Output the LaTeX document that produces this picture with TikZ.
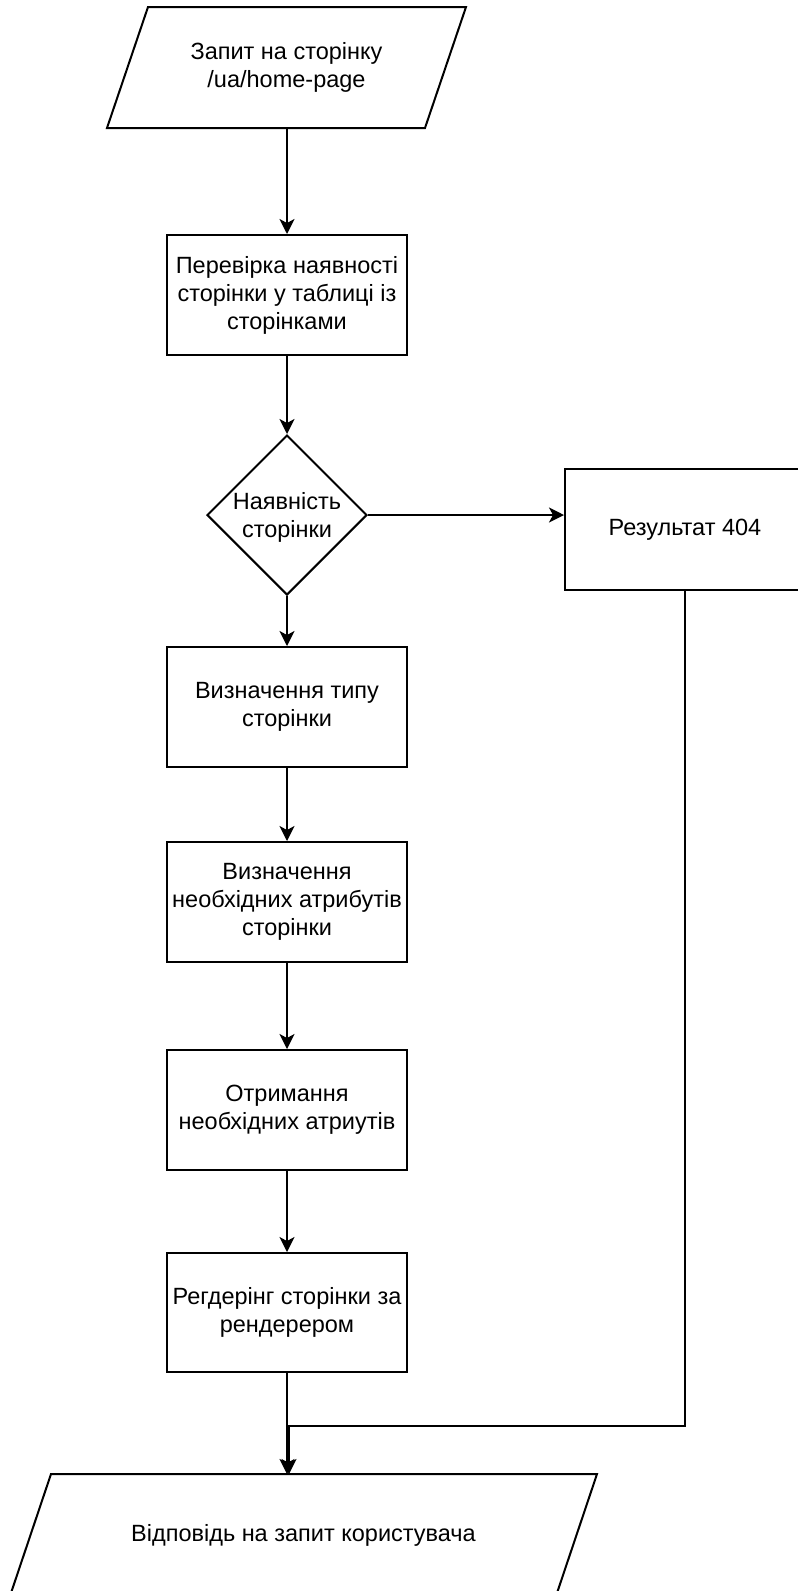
\documentclass[tikz,border=0pt]{standalone}
\usepackage{fontspec}
\setmainfont{Liberation Sans}
\usetikzlibrary{shapes.geometric,arrows.meta,calc}
\newcommand\diagfont{\fontsize{23.5}{28}\selectfont}
\begin{document}
\begin{tikzpicture}[x=1pt,y=-1pt,line width=2pt,
  box/.style={draw, rectangle, minimum width=240pt, minimum height=120pt, inner sep=0pt, align=center, font=\diagfont},
  parabox/.style={rectangle, inner sep=0pt, outer sep=1pt, align=center, font=\diagfont},
  decision/.style={draw, diamond, aspect=1, minimum size=160pt, inner sep=0pt},
  arr/.style={-{Stealth[length=15pt,width=15pt,inset=4pt]}},
  conn/.style={line width=2pt}]
\useasboundingbox (0,0) rectangle (798,1591);
\fill[white] (0,0) rectangle (798,1591);
\clip (0,0) rectangle (798,1591);

\node[parabox, minimum width=357pt, minimum height=119pt] (P1) at (286.5,67.5) {Запит на сторінку\\/ua/home-page};
\draw[line join=miter] (P1.south west) -- ($(P1.south east)+(-41,0)$) -- (P1.north east) -- ($(P1.north west)+(41,0)$) -- cycle;
\node[box] (B1) at (287,295) {Перевірка наявності\\сторінки у таблиці із\\сторінками};
\node[decision, label={[align=center,font=\diagfont,yshift=-2pt]center:Наявність\\сторінки}] (D) at (287,515) {};
\node[box, minimum height=121pt] (R) at (685,529.5) {Результат 404};
\node[box] (B2) at (287,707) {Визначення типу\\сторінки};
\node[box] (B3) at (287,902) {Визначення\\необхідних атрибутів\\сторінки};
\node[box] (B4) at (287,1110) {Отримання\\необхідних атриутів};
\node[box, minimum height=119pt] (B5) at (287,1312.5) {Регдерінг сторінки за\\рендерером};
\node[parabox, minimum width=585pt, minimum height=120pt] (P2) at (303.5,1535) {Відповідь на запит користувача};
\draw[line join=miter] (P2.south west) -- ($(P2.south east)+(-41,0)$) -- (P2.north east) -- ($(P2.north west)+(41,0)$) -- cycle;

\coordinate (J) at (289,1426);

\draw[conn,arr] (P1.south -| B1.north) -- (B1.north);
\draw[conn,arr] (B1.south) -- (D.north);
\draw[conn,arr] (D.east) -- (D.east -| R.west);
\draw[conn,arr] (D.south) -- (B2.north);
\draw[conn,arr] (B2.south) -- (B3.north);
\draw[conn,arr] (B3.south) -- (B4.north);
\draw[conn,arr] (B4.south) -- (B5.north);
\draw[conn,arr] (B5.south) -- (B5.south |- P2.north);
\draw[conn,arr] (R.south) |- (J) -- (J |- P2.north);
\end{tikzpicture}
\end{document}
